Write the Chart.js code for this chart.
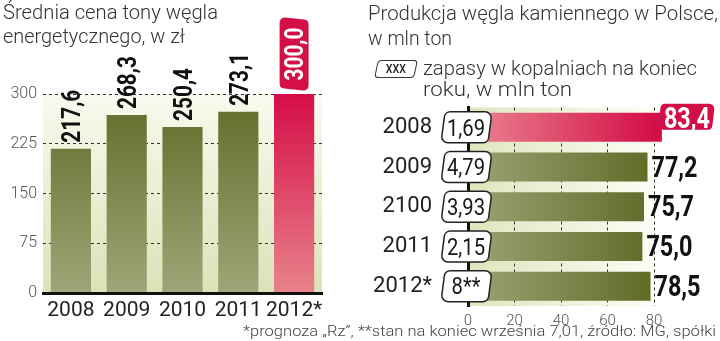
<!DOCTYPE html>
<html><head><meta charset="utf-8">
<script src="https://cdn.jsdelivr.net/npm/chart.js@4.4.1/dist/chart.umd.min.js"></script>
<style>
html,body{margin:0;padding:0;background:#fff}
body{width:720px;height:341px;position:relative;overflow:hidden;font-family:Roboto,"DejaVu Sans",sans-serif}
canvas{position:absolute;top:0}
#c1{left:0}
#c2{left:360px}
.t{position:absolute;white-space:nowrap;font-weight:300;color:#333;transform-origin:0 50%;font-size:21px;line-height:26px}
.f{font-size:15px;line-height:18px;color:#444}
#lg{position:absolute;left:376px;top:60px;width:38px;height:16px;border:1.4px solid #333;border-radius:4px;transform:skewX(-12deg);text-align:center;font:500 12.5px Roboto;line-height:16px;color:#222}
#lg span{display:inline-block;transform:skewX(12deg) scaleX(0.85)}
</style></head><body>
<canvas id="c1" width="360" height="341"></canvas>
<canvas id="c2" width="360" height="341"></canvas>
<div class="t fit" data-w="215" style="left:3px;top:-1px">Średnia cena tony węgla</div>
<div class="t fit" data-w="182" style="left:3px;top:23px">energetycznego, w zł</div>
<div class="t fit" data-w="350" style="left:368px;top:0px">Produkcja węgla kamiennego w Polsce,</div>
<div class="t fit" data-w="84" style="left:368px;top:25px">w mln ton</div>
<div id="lg"><span>XXX</span></div>
<div class="t fit" data-w="274" style="left:423px;top:55px">zapasy w kopalniach na koniec</div>
<div class="t fit" data-w="149" style="left:423px;top:76px">roku, w mln ton</div>
<div class="t f fit" data-w="473" style="left:243px;top:322px">*prognoza „Rz”, **stan na koniec września 7,01, źródło: MG, spółki</div>
<script>
// ---- data ----
const priceYears = ['2008', '2009', '2010', '2011', '2012*'];
const priceValues = [217.6, 268.3, 250.4, 273.1, 300.0];
const priceTickStep = 75;
const priceMax = 300;
const priceHighlight = 4;

const prodYears = ['2008', '2009', '2100', '2011', '2012*'];
const prodValues = [83.4, 77.2, 75.7, 75.0, 78.5];
const stockLabels = ['1,69', '4,79', '3,93', '2,15', '8**'];
const prodTickStep = 20;
const prodMax = 80;
const prodHighlight = 0;

// ---- helpers ----
const fmt = v => v.toFixed(1).replace('.', ',');

function slantBox(ctx, x, y, w, h, slant, r) {
  const p = [[x + slant, y], [x + w, y], [x + w - slant, y + h], [x, y + h]];
  ctx.beginPath();
  ctx.moveTo((p[3][0] + p[0][0]) / 2, (p[3][1] + p[0][1]) / 2);
  for (let i = 0; i < 4; i++) {
    const a = p[i], b = p[(i + 1) % 4];
    ctx.arcTo(a[0], a[1], b[0], b[1], r);
  }
  ctx.closePath();
}

function condText(ctx, text, x, y, size, weight, sx, align, color) {
  ctx.save();
  ctx.font = weight + ' ' + size + 'px Roboto';
  ctx.fillStyle = color;
  ctx.textBaseline = 'alphabetic';
  ctx.textAlign = align;
  ctx.translate(x, y + size * 0.711 / 2);
  ctx.scale(sx, 1);
  ctx.fillText(text, 0, 0);
  ctx.restore();
}

// ---- left chart ----
function vFill(c) {
  const ch = c.chart, a = ch.chartArea;
  if (!a) return '#777';
  const g = ch.ctx.createLinearGradient(0, a.top, 0, a.bottom);
  if (c.dataIndex === priceHighlight) {
    g.addColorStop(0, '#d50d47'); g.addColorStop(1, '#e8838b');
  } else {
    g.addColorStop(0, '#616b27'); g.addColorStop(1, '#9ea678');
  }
  return g;
}

const bgLeft = {
  id: 'bgLeft',
  beforeDraw(ch) {
    const a = ch.chartArea, c = ch.ctx;
    const g = c.createLinearGradient(0, a.top, 0, a.bottom);
    g.addColorStop(0, '#f8faee'); g.addColorStop(1, '#dce2b8');
    c.save(); c.fillStyle = g; c.fillRect(a.left, a.top, a.right - a.left, a.bottom - a.top); c.restore();
  }
};

const labelsLeft = {
  id: 'labelsLeft',
  afterDraw(ch) {
    const ctx = ch.ctx;
    ch.getDatasetMeta(0).data.forEach((bar, i) => {
      const txt = fmt(priceValues[i]);
      ctx.save();
      if (i === priceHighlight) {
        ctx.translate(bar.x, bar.y - 3);
        ctx.rotate(-Math.PI / 2);
        slantBox(ctx, 0, -14.5, 74, 29, 3, 5);
        ctx.fillStyle = '#d40f48'; ctx.fill();
        ctx.font = 'bold 26px Roboto'; ctx.fillStyle = '#fff';
        ctx.textAlign = 'center'; ctx.textBaseline = 'alphabetic';
        ctx.scale(0.8, 1);
        ctx.fillText(txt, 37 / 0.8, 26 * 0.711 / 2);
      } else {
        ctx.translate(bar.x, bar.y - 6);
        ctx.rotate(-Math.PI / 2);
        ctx.font = 'bold 26px Roboto'; ctx.fillStyle = '#111';
        ctx.textAlign = 'left'; ctx.textBaseline = 'alphabetic';
        ctx.scale(0.8, 1);
        ctx.fillText(txt, 0, 26 * 0.711 / 2);
      }
      ctx.restore();
    });
  }
};

new Chart(document.getElementById('c1'), {
  type: 'bar',
  data: {
    labels: priceYears,
    datasets: [{ data: priceValues, backgroundColor: vFill, borderWidth: 0, barPercentage: 0.72, categoryPercentage: 1 }]
  },
  options: {
    responsive: false, animation: false, devicePixelRatio: 1,
    layout: { padding: { top: 94, right: 38, left: 0, bottom: 0 } },
    plugins: { legend: { display: false }, tooltip: { enabled: false } },
    scales: {
      x: {
        grid: { display: false, drawTicks: false },
        border: { display: true, width: 3, color: '#111', z: 1 },
        ticks: { font: { family: 'Roboto', size: 21 }, color: '#222', padding: 5, autoSkip: false, maxRotation: 0, minRotation: 0 },
        afterFit: s => { s.height = 48; s.paddingLeft = 0; s.paddingRight = 0; }
      },
      y: {
        min: 0, max: priceMax,
        ticks: { stepSize: priceTickStep, font: { family: 'Roboto', size: 16, weight: '300' }, color: '#555', padding: 6 },
        grid: { color: c => (c.tick && c.tick.value === 0) ? 'rgba(0,0,0,0)' : '#333', lineWidth: 1, drawTicks: false },
        border: { display: false, dash: [3, 3] },
        afterFit: s => { s.width = 43; s.paddingTop = 0; s.paddingBottom = 0; }
      }
    }
  },
  plugins: [bgLeft, labelsLeft]
});

// ---- right chart ----
function hFill(c) {
  const ch = c.chart, a = ch.chartArea;
  if (!a) return '#777';
  const g = ch.ctx.createLinearGradient(a.left, 0, a.right, 0);
  if (c.dataIndex === prodHighlight) {
    g.addColorStop(0, '#ea8591'); g.addColorStop(1, '#d40f48');
  } else {
    g.addColorStop(0, '#9ba577'); g.addColorStop(1, '#5f6a26');
  }
  return g;
}

const bgRight = {
  id: 'bgRight',
  beforeDraw(ch) {
    const a = ch.chartArea, c = ch.ctx;
    const g = c.createLinearGradient(a.left, 0, a.right, 0);
    g.addColorStop(0, '#dfe5bd'); g.addColorStop(1, '#fcfdf5');
    c.save(); c.fillStyle = g; c.fillRect(a.left, a.top, a.right - a.left, a.bottom - a.top); c.restore();
  }
};

const labelsRight = {
  id: 'labelsRight',
  afterDraw(ch) {
    const ctx = ch.ctx;
    ch.getDatasetMeta(0).data.forEach((bar, i) => {
      const txt = fmt(prodValues[i]);
      const top = bar.y - bar.height / 2;
      if (i === prodHighlight) {
        ctx.save();
        slantBox(ctx, bar.x - 4, top - 9, 57, 26, 3, 5);
        ctx.fillStyle = '#d40f48'; ctx.fill();
        ctx.restore();
        condText(ctx, txt, bar.x - 4 + 29, top + 4, 30, 'bold', 0.78, 'center', '#fff');
      } else {
        condText(ctx, txt, bar.x + 4, bar.y - 1, 30, 'bold', 0.78, 'left', '#111');
      }
      ctx.save();
      slantBox(ctx, 81, bar.y - 15.5, 51, 31, 4, 6);
      ctx.fillStyle = '#fff'; ctx.fill();
      ctx.lineWidth = 1.5; ctx.strokeStyle = '#222'; ctx.stroke();
      ctx.restore();
      condText(ctx, stockLabels[i], 106, bar.y, 23, '400', 0.88, 'center', '#1a1a1a');
    });
  }
};

new Chart(document.getElementById('c2'), {
  type: 'bar',
  data: {
    labels: prodYears,
    datasets: [{ data: prodValues, backgroundColor: hFill, borderWidth: 0, barPercentage: 0.73, categoryPercentage: 1, clip: false }]
  },
  options: {
    indexAxis: 'y',
    responsive: false, animation: false, devicePixelRatio: 1,
    layout: { padding: { top: 107.5, right: 66, left: 0, bottom: 0 } },
    plugins: { legend: { display: false }, tooltip: { enabled: false } },
    scales: {
      x: {
        min: 0, max: prodMax,
        ticks: { stepSize: prodTickStep, font: { family: 'Roboto', size: 15, weight: '300' }, color: '#555', padding: 6 },
        grid: { color: c => (c.tick && c.tick.value === 0) ? 'rgba(0,0,0,0)' : '#333', lineWidth: 1, drawTicks: false },
        border: { display: false, dash: [3, 3] },
        afterFit: s => { s.height = 35; s.paddingLeft = 0; s.paddingRight = 0; }
      },
      y: {
        grid: { display: false, drawTicks: false },
        border: { display: true, width: 3, color: '#111', z: 1 },
        ticks: { font: { family: 'Roboto', size: 22 }, color: '#222', padding: 36 },
        afterFit: s => { s.width = 108; s.paddingTop = 0; s.paddingBottom = 0; }
      }
    }
  },
  plugins: [bgRight, labelsRight]
});

document.querySelectorAll('.fit').forEach(el => {
  const w = el.getBoundingClientRect().width;
  el.style.transform = 'scaleX(' + (el.dataset.w / w) + ')';
});
</script>
</body></html>
